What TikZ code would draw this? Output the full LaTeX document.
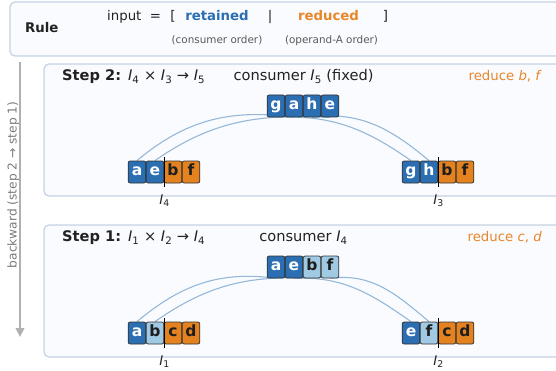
\documentclass[tikz,border=0pt]{standalone}
\usepackage{fontspec}
\setmainfont{DejaVu Sans}
\usetikzlibrary{arrows.meta}

\definecolor{keepblue}{RGB}{44,110,178}
\definecolor{dropora}{RGB}{228,130,32}
\definecolor{reducedtxt}{RGB}{232,134,42}
\definecolor{paleblue}{RGB}{160,202,228}
\definecolor{tileedge}{RGB}{50,50,50}
\definecolor{tiledark}{RGB}{30,30,30}
\definecolor{linkcol}{RGB}{150,184,216}
\definecolor{panelfill}{RGB}{249,251,254}
\definecolor{paneledge}{RGB}{196,210,228}
\definecolor{inktext}{RGB}{34,34,34}
\definecolor{softtext}{RGB}{90,90,90}
\definecolor{flowgray}{RGB}{176,176,176}

\pgfdeclarelayer{panels}
\pgfdeclarelayer{links}
\pgfsetlayers{panels,links,main}

\newcommand\opI[1]{\textit{I}\textsubscript{#1}}

\tikzset{
  x=1pt, y=1pt,
  panelbox/.style={draw=paneledge, fill=panelfill, line width=1.2pt, rounded corners=5pt},
  tile/.style={draw=tileedge, line width=0.8pt, rounded corners=2pt,
    minimum width=17.6pt, minimum height=22pt, inner sep=0pt,
    text height=10.8pt, text depth=3pt,
    font=\fontsize{15.5}{16}\selectfont\bfseries},
  keep/.style={tile, fill=keepblue, text=white},
  drop/.style={tile, fill=dropora, text=tiledark},
  pale/.style={tile, fill=paleblue, text=tiledark},
  link/.style={draw=linkcol, line width=1.1pt},
  cut/.style={draw=black, line width=1.6pt},
  head/.style={anchor=base west, text=inktext, inner sep=0pt, font=\fontsize{14.6}{16}\selectfont},
  midtxt/.style={anchor=base, text=inktext, inner sep=0pt, font=\fontsize{14.6}{16}\selectfont},
  redtxt/.style={anchor=base east, text=reducedtxt, inner sep=0pt, font=\fontsize{13.3}{16}\selectfont},
  oplabel/.style={anchor=base, text=inktext, inner sep=0pt, font=\fontsize{13.3}{16}\selectfont},
  rulefont/.style={anchor=base, text=inktext, inner sep=0pt, font=\fontsize{13.3}{16}\selectfont},
  subnote/.style={anchor=base, text=softtext, inner sep=0pt, font=\fontsize{10.4}{12}\selectfont},
}

\begin{document}
\begin{tikzpicture}
\useasboundingbox (0,0) rectangle (556,370);

% ---- panels ----
\begin{pgfonlayer}{panels}
  \draw[panelbox] (10,314) rectangle (580,368);
  \draw[panelbox] (44,174) rectangle (580,306);
  \draw[panelbox] (44,13) rectangle (580,145);
\end{pgfonlayer}

% ---- rule line ----
\node[rulefont, anchor=base west, font=\fontsize{13.3}{16}\selectfont\bfseries] (rulelbl) at (25,337.7) {Rule};
\node[rulefont, anchor=base west] (inp) at (107,349.3) {input};
\node[rulefont] (eqs) at (155.5,349.3) {=};
\node[rulefont] (lbr) at (173,349.3) {[};
\node[rulefont, text=keepblue, font=\fontsize{13.3}{16}\selectfont\bfseries] (ret) at (217,349.3) {retained};
\node[rulefont] (bar) at (270,349.3) {|};
\node[rulefont, text=reducedtxt, font=\fontsize{13.3}{16}\selectfont\bfseries] (red) at (328.5,349.3) {reduced};
\node[rulefont] (rbr) at (385.5,349.3) {]};
\node[subnote] (retnote) at (217,326.5) {(consumer order)};
\node[subnote] (rednote) at (331.5,326.5) {(operand-A order)};

% ---- backward flow arrow ----
\coordinate (flowtop) at (20,308);
\coordinate (flowbot) at (20,33);
\draw[flowgray, line width=2.6pt, -{Triangle[length=9pt,width=8.5pt]}] (flowtop) -- (flowbot);
\node[rotate=90, text=softtext!80, inner sep=0pt, font=\fontsize{12.2}{14}\selectfont] (flowlbl) at (13.3,185) {backward (step 2 → step 1)};

% ================= Step 2 =================
\node[head] (s2title) at (62,289.3) {\textbf{Step 2:}\hspace{7pt}\opI{4} × \opI{3} → \opI{5}};
\node[midtxt] (s2cons) at (303.5,289.3) {consumer \opI{5} (fixed)};
\node[redtxt] (s2red) at (542,289.3) {reduce \textit{b}, \textit{f}};

% consumer I5
\node[keep] (s2c1) at (276,264) {g};
\node[keep] (s2c2) at (294,264) {a};
\node[keep] (s2c3) at (312,264) {h};
\node[keep] (s2c4) at (330,264) {e};
% operand I4
\node[keep] (s2l1) at (137,198) {a};
\node[keep] (s2l2) at (155,198) {e};
\node[drop] (s2l3) at (173,198) {b};
\node[drop] (s2l4) at (191,198) {f};
% operand I3
\node[keep] (s2r1) at (411,198) {g};
\node[keep] (s2r2) at (429,198) {h};
\node[drop] (s2r3) at (447,198) {b};
\node[drop] (s2r4) at (465,198) {f};

\draw[cut] ([xshift=0.2pt,yshift=3.5pt]s2l2.north east) -- ([xshift=0.2pt,yshift=-3.5pt]s2l2.south east);
\draw[cut] ([xshift=0.2pt,yshift=3.5pt]s2r2.north east) -- ([xshift=0.2pt,yshift=-3.5pt]s2r2.south east);

\node[oplabel] (s2lname) at (164.5,165.5) {\opI{4}};
\node[oplabel] (s2rname) at (438.5,165.5) {\opI{3}};

\begin{pgfonlayer}{links}
  \draw[link] (s2l1.north) to[out=40,in=172] (s2c2.south);
  \draw[link] (s2l2.north) to[out=35,in=177] (s2c4.south);
  \draw[link] (s2r1.north) to[out=145,in=3] (s2c1.south);
  \draw[link] (s2r2.north) to[out=140,in=8] (s2c3.south);
\end{pgfonlayer}

% ================= Step 1 =================
\node[head] (s1title) at (62,128.3) {\textbf{Step 1:}\hspace{7pt}\opI{1} × \opI{2} → \opI{4}};
\node[midtxt] (s1cons) at (303.5,128.3) {consumer \opI{4}};
\node[redtxt] (s1red) at (542,128.3) {reduce \textit{c}, \textit{d}};

% consumer I4
\node[keep] (s1c1) at (276,103) {a};
\node[keep] (s1c2) at (294,103) {e};
\node[pale] (s1c3) at (312,103) {b};
\node[pale] (s1c4) at (330,103) {f};
% operand I1
\node[keep] (s1l1) at (137,37) {a};
\node[pale] (s1l2) at (155,37) {b};
\node[drop] (s1l3) at (173,37) {c};
\node[drop] (s1l4) at (191,37) {d};
% operand I2
\node[keep] (s1r1) at (411,37) {e};
\node[pale] (s1r2) at (429,37) {f};
\node[drop] (s1r3) at (447,37) {c};
\node[drop] (s1r4) at (465,37) {d};

\draw[cut] ([xshift=0.2pt,yshift=3.5pt]s1l2.north east) -- ([xshift=0.2pt,yshift=-3.5pt]s1l2.south east);
\draw[cut] ([xshift=0.2pt,yshift=3.5pt]s1r2.north east) -- ([xshift=0.2pt,yshift=-3.5pt]s1r2.south east);

\node[oplabel] (s1lname) at (164.5,5) {\opI{1}};
\node[oplabel] (s1rname) at (438.5,5) {\opI{2}};

\begin{pgfonlayer}{links}
  \draw[link] (s1l1.north) to[out=40,in=172] (s1c1.south);
  \draw[link] (s1l2.north) to[out=35,in=177] (s1c3.south);
  \draw[link] (s1r1.north) to[out=145,in=3] (s1c2.south);
  \draw[link] (s1r2.north) to[out=140,in=8] (s1c4.south);
\end{pgfonlayer}
\end{tikzpicture}
\end{document}
